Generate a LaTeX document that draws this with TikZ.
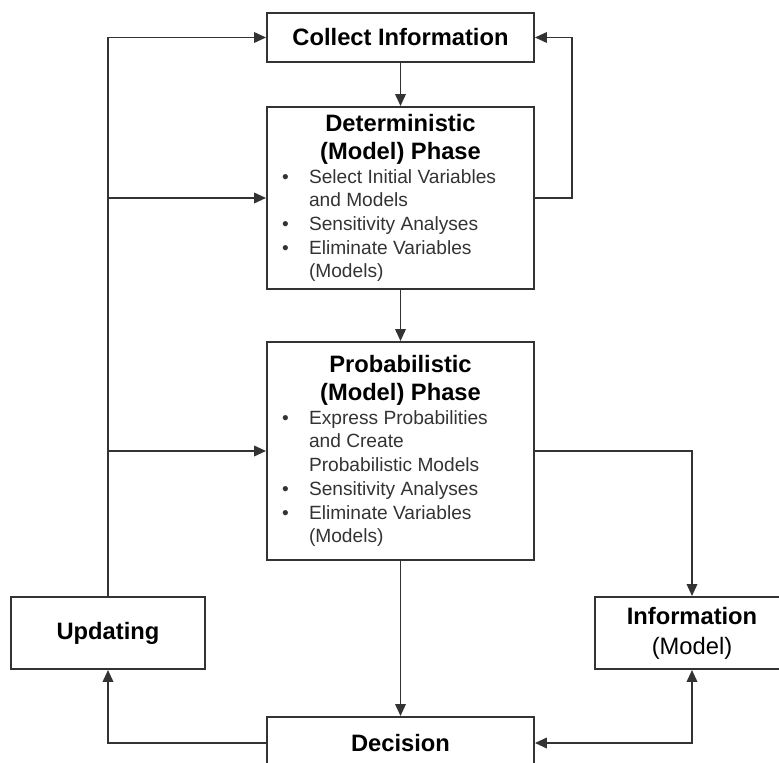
\documentclass[tikz,border=0pt]{standalone}
\usepackage{fontspec}
\setmainfont{Liberation Sans}
\usetikzlibrary{arrows.meta}

% bullet line inside a phase box
\newcommand{\pitem}[1]{\par\hangindent=0.84cm\hangafter=1\noindent\hbox to 0.84cm{\hspace{0.3cm}\textbullet\hfil}#1}
% header (bold, centred) followed by bullet lines
\newcommand{\phasetext}[2]{\parbox{5.34cm}{\centering\bfseries\fontsize{13.5}{16}\selectfont #1\par
  \raggedright\mdseries\fontsize{10.9}{13.5}\selectfont\color{black!80}#2}}

\tikzset{
  box/.style={draw=black!80, line width=1.1pt, rectangle, inner sep=0pt, align=center,
    font=\fontsize{13.5}{17}\selectfont},
  phase/.style={box, minimum width=5.34cm},
  tip/.tip={Triangle[length=0.24cm,width=0.21cm]},
  arr/.style={draw=black!80, line width=1.1pt, -tip},
  dblarr/.style={arr, tip-tip}
}

\begin{document}
\begin{tikzpicture}[x=0.02cm, y=-0.02cm]
\useasboundingbox (0,0) rectangle (779,763);

% boxes
\node[box, minimum width=5.34cm, minimum height=0.98cm] (collect) at (400.5,37.5) {\bfseries Collect Information};
\node[phase, minimum height=3.64cm] (determ) at (400.5,198) {\phasetext{Deterministic\\(Model) Phase}{%
  \pitem{Select Initial Variables\newline and Models}
  \pitem{Sensitivity Analyses}
  \pitem{Eliminate Variables\newline (Models)}}};
\node[phase, minimum height=4.36cm] (prob) at (400.5,451) {\phasetext{Probabilistic\\(Model) Phase}{%
  \pitem{Express Probabilities\newline and Create\newline Probabilistic Models}
  \pitem{Sensitivity Analyses}
  \pitem{Eliminate Variables\newline (Models)}}};
\node[box, minimum width=3.88cm, minimum height=1.44cm] (update) at (108,633) {\bfseries Updating};
\node[box, minimum width=3.88cm, minimum height=1.44cm] (info) at (692,633) {\bfseries Information\\(Model)};
\node[box, minimum width=5.34cm, minimum height=1.04cm] (decision) at (400.5,743) {\bfseries Decision};

% main flow
\draw[arr] (collect) -- (determ);
\draw[arr] (determ) -- (prob);
\draw[arr] (prob) -- (decision);
\draw[arr] (determ.east) -- ++(37,0) |- (collect.east);

% updating loop on the left
\draw[arr] (update.north) |- (collect.west);
\draw[arr] (update.north |- determ.west) -- (determ.west);
\draw[arr] (update.north |- prob.west) -- (prob.west);
\draw[arr] (decision.west) -| (update.south);

% information branch on the right
\draw[arr] (prob.east) -| (info.north);
\draw[dblarr] (decision.east) -| (info.south);
\end{tikzpicture}
\end{document}
